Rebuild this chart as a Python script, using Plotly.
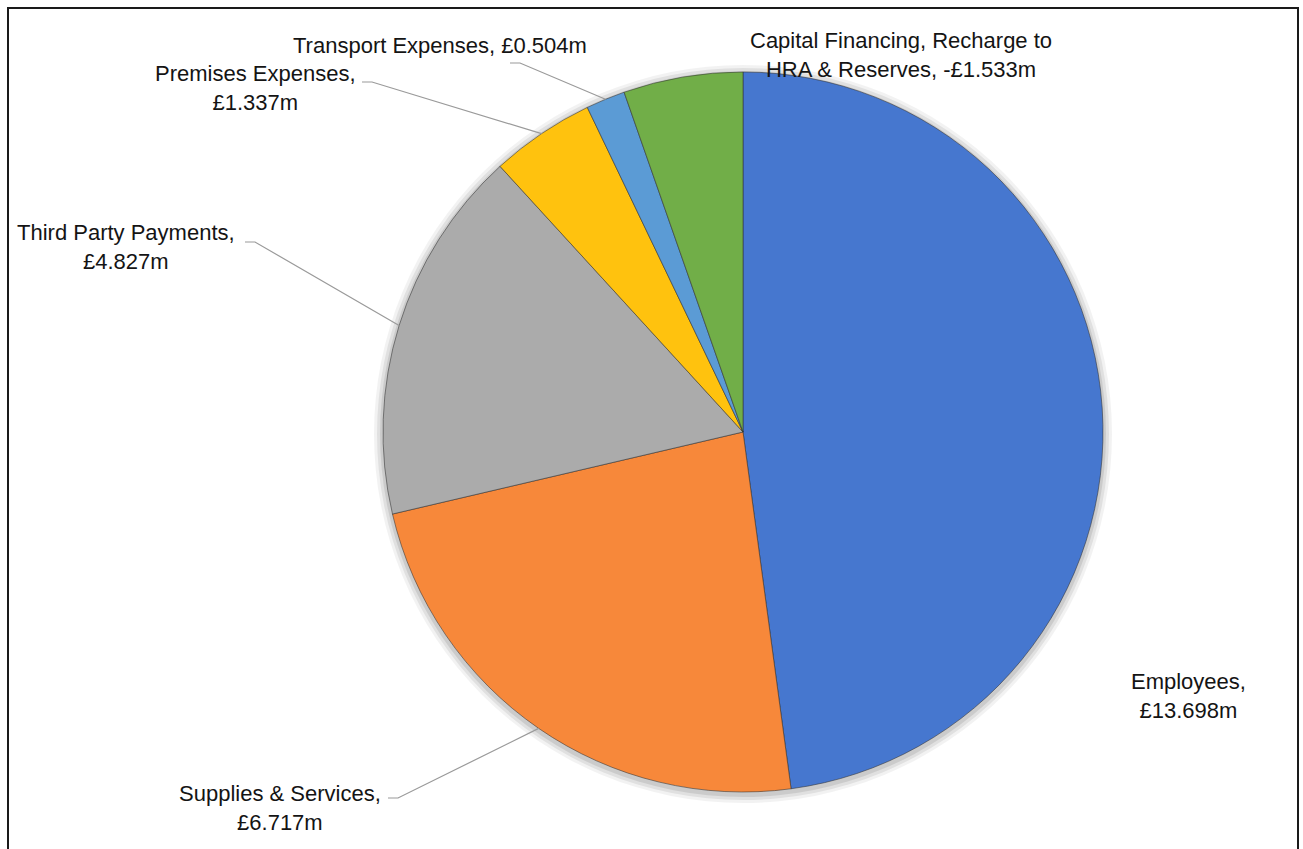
import math
import plotly.graph_objects as go

# ---- data ----
categories = [
    "Employees",
    "Supplies & Services",
    "Third Party Payments",
    "Premises Expenses",
    "Transport Expenses",
    "Capital Financing, Recharge to HRA & Reserves",
]
values = [13.698, 6.717, 4.827, 1.337, 0.504, -1.533]   # £m
colors = ["#4677CF", "#F7883A", "#ABABAB", "#FFC20E", "#5B9BD5", "#71AE48"]

# label text layout (where to break lines)
label_texts = [
    "Employees,<br>{v}",
    "Supplies & Services,<br>{v}",
    "Third Party Payments,<br>{v}",
    "Premises Expenses,<br>{v}",
    "Transport Expenses, {v}",
    "Capital Financing, Recharge to<br>HRA & Reserves, {v}",
]

# ---- layout constants (pixels) ----
W, H = 1303, 849
CX, CY, R = 743, 432, 360
label_pos = [(1188, 696), (280, 808), (126, 247), (255, 88), (440, 45), (901, 55)]
leader_start = [None, (388, 798), (245, 242), (362, 82), (510, 63), None]


def px(x):
    return x / W


def py(y):
    return 1 - y / H


def fmt(v):
    return ("-£" if v < 0 else "£") + f"{abs(v):.3f}m"


sizes = [abs(v) for v in values]
total = sum(sizes)

fig = go.Figure(go.Pie(
    labels=categories,
    values=sizes,
    sort=False,
    direction="clockwise",
    rotation=0,
    textinfo="none",
    hoverinfo="label+value",
    marker=dict(colors=colors, line=dict(color="rgba(50,50,50,0.55)", width=1)),
    domain=dict(x=[px(CX - R), px(CX + R)], y=[py(CY + R), py(CY - R)]),
    showlegend=False,
))

annotations = []
shapes = []

# soft shadow behind pie
for i, (grow, alpha) in enumerate([(9, 0.05), (6, 0.07), (3, 0.09)]):
    shapes.append(dict(
        type="circle", xref="paper", yref="paper", layer="below",
        x0=px(CX - R - grow), x1=px(CX + R + grow),
        y0=py(CY + R + grow + 2), y1=py(CY - R - grow + 2),
        line=dict(width=0), fillcolor=f"rgba(0,0,0,{alpha})",
    ))

cum = 0.0
for i, (cat, v) in enumerate(zip(categories, values)):
    s = abs(v)
    mid = (cum + s / 2) / total * 2 * math.pi
    cum += s
    tx, ty = label_pos[i]
    annotations.append(dict(
        x=px(tx), y=py(ty), xref="paper", yref="paper",
        xanchor="center", yanchor="middle", showarrow=False,
        text=label_texts[i].format(v=fmt(v)),
        font=dict(family="Arial, Liberation Sans, sans-serif", size=22, color="#141414"),
    ))
    if leader_start[i] is not None:
        ex = CX + R * math.sin(mid)
        ey = CY - R * math.cos(mid)
        sx, sy = leader_start[i]
        hx = sx + 10
        path = f"M {px(sx)} {py(sy)} L {px(hx)} {py(sy)} L {px(ex)} {py(ey)}"
        shapes.append(dict(
            type="path", xref="paper", yref="paper", path=path,
            line=dict(color="#9a9a9a", width=1.2),
        ))

# chart frame
shapes.append(dict(
    type="rect", xref="paper", yref="paper",
    x0=px(8), x1=px(1298), y0=-0.05, y1=py(8),
    line=dict(color="#1a1a1a", width=2), fillcolor="rgba(0,0,0,0)",
))

fig.update_layout(
    width=W, height=H,
    margin=dict(l=0, r=0, t=0, b=0),
    paper_bgcolor="white",
    plot_bgcolor="white",
    annotations=annotations,
    shapes=shapes,
)

fig.write_html("out.html")
